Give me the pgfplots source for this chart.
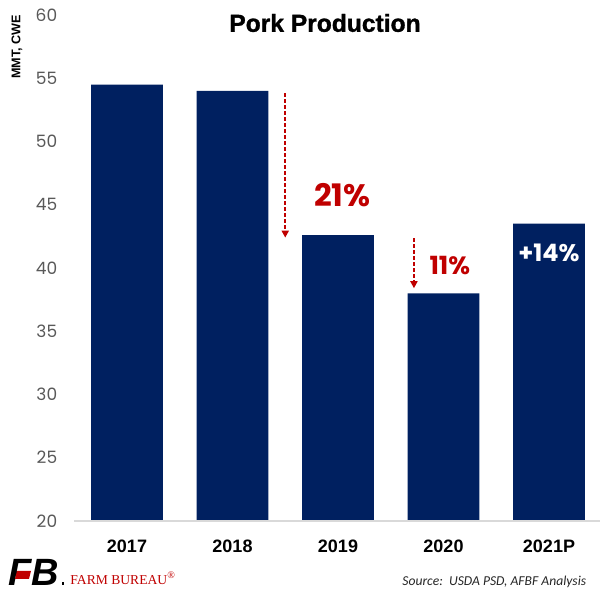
\documentclass[border=0pt]{standalone}
\usepackage{pgfplots}
\pgfplotsset{compat=1.18}
\usepackage{fontspec}
\setmainfont{Liberation Sans}
\newfontfamily\titlefont[BoldFeatures={FakeBold=1.2}]{Liberation Sans}
\newfontfamily\pop{Poppins}
\newfontfamily\carl{Carlito}
\newfontfamily\lserif{Liberation Serif}
\usetikzlibrary{arrows.meta}
\definecolor{navy}{RGB}{0,32,96}
\definecolor{fbred}{RGB}{192,0,0}
\definecolor{tickgray}{RGB}{89,89,89}
\definecolor{axgray}{RGB}{217,217,217}
\begin{document}
\begin{tikzpicture}
\begin{axis}[
  at={(0,0)}, anchor=south west,
  scale only axis,
  width=263.75pt, height=253pt,
  xmin=-0.5, xmax=4.5, ymin=20, ymax=60,
  ytick={20,25,...,60},
  xtick={0,1,2,3,4},
  xticklabels={2017,2018,2019,2020,2021P},
  axis line style={draw=none},
  major tick length=0pt,
  /pgf/number format/assume math mode=true,
  yticklabel style={font=\pop\fontsize{8.5}{9}\selectfont, text=tickgray, xshift=-5pt},
  xticklabel style={font=\bfseries\fontsize{9}{10}\selectfont, text=black, yshift=-6pt},
]
\addplot[ybar, bar width=0.68, fill=navy, draw=none] coordinates {
  (0,54.5) (1,54.0) (2,42.6) (3,38.0) (4,43.5)
};
\draw[fbred, line width=1pt, dash pattern=on 2pt off 1pt, -{Triangle[length=3.5pt,width=3.5pt]}]
  (axis cs:1.5,53.8) -- (axis cs:1.5,42.4);
\draw[fbred, line width=1pt, dash pattern=on 2pt off 1pt, -{Triangle[length=3.5pt,width=3.5pt]}]
  (axis cs:2.72,42.35) -- (axis cs:2.72,38.4);
\node[text=fbred, font=\pop\bfseries\fontsize{15.5}{16}\selectfont] at (axis cs:2.04,45.75) {21\%};
\node[text=fbred, font=\pop\bfseries\fontsize{12.5}{13}\selectfont] at (axis cs:3.06,40.2) {11\%};
\node[text=white, font=\pop\bfseries\fontsize{12}{13}\selectfont] at (axis cs:4,41.2) {+14\%};
\end{axis}
\begin{scope}[x=0.5pt, y=-0.5pt, shift={(-74.25,-521)}]
  \draw[axgray, line width=1pt] (74.25,521) -- (600,521);
  \node[font=\titlefont\bfseries\fontsize{12.3}{14}\selectfont] at (325,23) {Pork Production};
  \node[rotate=90, font=\bfseries\fontsize{6.3}{7}\selectfont] at (17,47) {MMT, CWE};
  % logo
  \node[font=\bfseries\itshape\fontsize{19}{20}\selectfont, anchor=base west, inner sep=0pt] at (8,585) {FB};
  \fill[fbred] (17,571) -- (31,571) -- (29,579) -- (15,579) -- cycle;
  \fill[black] (62,582) rectangle (64,585);
  \node[font=\lserif\fontsize{6.8}{7}\selectfont, text=fbred, anchor=west, inner sep=0pt] at (70,578) {FARM BUREAU\textsuperscript{\tiny\textregistered}};
  \node[font=\carl\itshape\fontsize{6.8}{8}\selectfont, text=black!85, anchor=west, inner sep=0pt] at (402,582) {Source:\ \ USDA PSD, AFBF Analysis};
  \pgfresetboundingbox
  \useasboundingbox (0,0) rectangle (600,594);
\end{scope}
\end{tikzpicture}
\end{document}
